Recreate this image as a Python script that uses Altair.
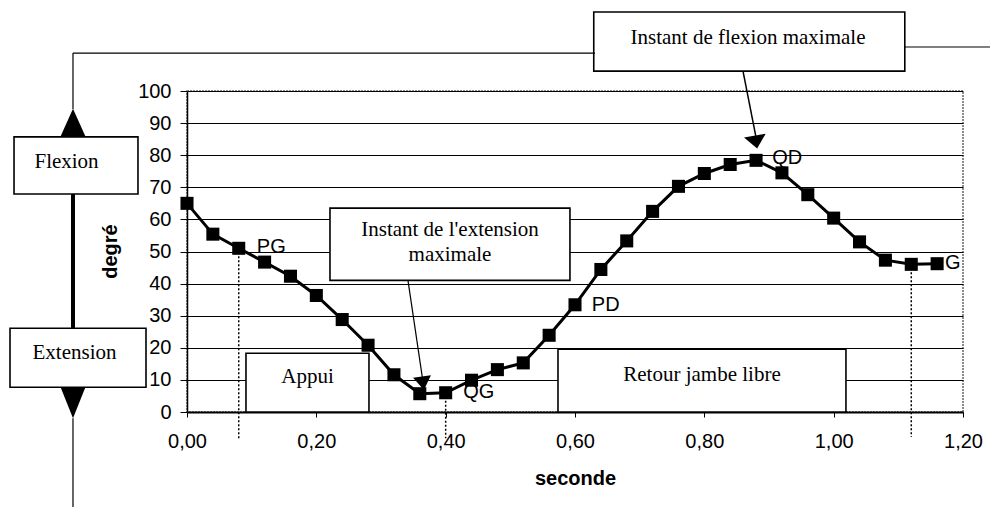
import altair as alt
import pandas as pd

# ---- data ----
seconds = [0.00, 0.04, 0.08, 0.12, 0.16, 0.20, 0.24, 0.28, 0.32, 0.36,
           0.40, 0.44, 0.48, 0.52, 0.56, 0.60, 0.64, 0.68, 0.72, 0.76,
           0.80, 0.84, 0.88, 0.92, 0.96, 1.00, 1.04, 1.08, 1.12, 1.16]
degres = [65.0, 55.4, 51.0, 46.7, 42.3, 36.3, 28.8, 20.8, 11.6, 5.7,
          6.0, 9.9, 13.2, 15.3, 23.9, 33.4, 44.4, 53.3, 62.5, 70.3,
          74.3, 77.1, 78.4, 74.5, 67.7, 60.4, 53.0, 47.3, 46.0, 46.2]

x_ticks = [0.0, 0.2, 0.4, 0.6, 0.8, 1.0, 1.2]
y_ticks = [0, 10, 20, 30, 40, 50, 60, 70, 80, 90, 100]

point_labels = ["PG", "QG", "PD", "QD", "G"]
point_label_x = [0.108, 0.427, 0.626, 0.905, 1.172]
point_label_y = [51.4, 6.2, 33.3, 79.0, 46.3]

# dotted markers (time, top value)
mark_x = [0.08, 0.40, 1.12]
mark_top = [51.0, 6.0, 46.0]
mark_bottom = [-8.2, -8.2, -7.8]

# annotation boxes (data coordinates)
box_names = ["Flexion", "Extension", "FlexMax", "ExtMax", "Appui", "Retour"]
box_x1 = [-0.2675, -0.2737, 0.629, 0.2211, 0.0912, 0.5737]
box_x2 = [-0.0758, -0.0634, 1.110, 0.5922, 0.2814, 1.0190]
box_y1 = [85.7, 26.1, 124.6, 63.5, 18.3, 19.55]
box_y2 = [67.9, 7.7, 106.2, 41.0, 0.0, 0.0]

box_texts = ["Flexion", "Extension", "Instant de flexion maximale",
             "Instant de l'extension", "maximale", "Appui", "Retour jambe libre"]
box_text_x = [-0.1863, -0.174, 0.8675, 0.4067, 0.4067, 0.1863, 0.7964]
box_text_y = [77.9, 18.3, 116.5, 56.6, 48.9, 10.8, 11.4]

# connector segments (x, y, x2, y2, width)
seg_x = [-0.1763, -0.1763, -0.1763, 1.110, -0.1763, 0.8598, 0.3417]
seg_y = [67.9, 94.4, 111.8, 113.7, -1.96, 106.2, 41.0]
seg_x2 = [-0.1763, -0.1763, 0.631, 1.2417, -0.1763, 0.8795, 0.3645]
seg_y2 = [26.1, 111.8, 111.8, 113.7, -29.7, 86.0, 10.0]
seg_w = [4.0, 1.2, 1.2, 1.2, 1.2, 1.5, 1.2]

# arrowheads
head_x = [-0.1763, -0.1763, 0.8799, 0.3649]
head_y = [90.1, 2.87, 84.1, 8.95]
head_path = ["M-0.9,1L0,-1L0.9,1Z", "M-0.8,-1L0,1L0.8,-1Z",
             "M-1,-0.6L0,0.6L1,-0.6Z", "M-1,-0.75L0,0.75L1,-0.75Z"]
head_angle = [0, 0, 350, 352]
head_size = [784, 961, 484, 324]

# ---- tables ----
df = pd.DataFrame({"x": seconds, "y": degres})
lab = pd.DataFrame({"x": point_label_x, "y": point_label_y, "t": point_labels})
dots = pd.DataFrame({"x": mark_x, "y": mark_top, "y2": mark_bottom})
boxes = pd.DataFrame({"n": box_names, "x": box_x1, "x2": box_x2, "y": box_y1, "y2": box_y2})
btxt = pd.DataFrame({"t": box_texts, "x": box_text_x, "y": box_text_y})
segs = pd.DataFrame({"x": seg_x, "y": seg_y, "x2": seg_x2, "y2": seg_y2, "w": seg_w})
heads = pd.DataFrame({"x": head_x, "y": head_y, "p": head_path, "a": head_angle, "s": head_size})

xs = alt.Scale(domain=[0, 1.2], nice=False, zero=False)
ys = alt.Scale(domain=[0, 100], nice=False, zero=False)

xaxis = alt.Axis(values=x_ticks, grid=False, labelFlush=False,
                 labelExpr="replace(format(datum.value, '.2f'), '.', ',')",
                 domainColor="black", domainWidth=2, tickColor="black",
                 tickSize=5, labelFont="Liberation Sans", labelFontSize=20,
                 labelColor="black", labelPadding=14,
                 titleFont="Liberation Sans", titleFontSize=20,
                 titleFontWeight="bold", titleColor="black",
                 titleX=388, titleY=66, titleBaseline="middle", titleAlign="center")
yaxis = alt.Axis(values=y_ticks, grid=True, gridColor="black", gridWidth=1.2,
                 labelFlush=False,
                 domainColor="black", domainWidth=1.5, tickColor="black",
                 tickSize=7, labelFont="Liberation Sans", labelFontSize=20,
                 labelColor="black", labelPadding=9,
                 titleFont="Liberation Sans", titleFontSize=20,
                 titleFontWeight="bold", titleColor="black", titleAngle=270,
                 titleX=-76.5, titleY=160, titleBaseline="middle", titleAlign="center")


def X(f="x"):
    return alt.X(f"{f}:Q", scale=xs, axis=xaxis, title="seconde")


def Y(f="y"):
    return alt.Y(f"{f}:Q", scale=ys, axis=yaxis, title="degré")


base_line = alt.Chart(df).mark_line(color="black", strokeWidth=3).encode(x=X(), y=Y())
pts = alt.Chart(df).mark_square(color="black", size=170, opacity=1).encode(x=X(), y=Y())

rects = alt.Chart(boxes).mark_rect(fill="white", stroke="black", strokeWidth=1.6).encode(
    x=X(), x2="x2:Q", y=Y(), y2="y2:Q")

seg_layer = alt.Chart(segs).mark_rule(color="black").encode(
    x=X(), x2="x2:Q", y=Y(), y2="y2:Q",
    strokeWidth=alt.StrokeWidth("w:Q", scale=None))

dotted = alt.Chart(dots).mark_rule(color="black", strokeDash=[2, 2], strokeWidth=1.5).encode(
    x=X(), y=Y(), y2="y2:Q")

head_layer = alt.Chart(heads).mark_point(filled=True, color="black", opacity=1).encode(
    x=X(), y=Y(),
    shape=alt.Shape("p:N", scale=None),
    angle=alt.Angle("a:Q", scale=None),
    size=alt.Size("s:Q", scale=None))

plabels = alt.Chart(lab).mark_text(align="left", baseline="middle",
                                   font="Liberation Sans", fontSize=20,
                                   color="black").encode(x=X(), y=Y(), text="t:N")

btext = alt.Chart(btxt).mark_text(align="center", baseline="middle",
                                  font="Liberation Serif", fontSize=21,
                                  color="black").encode(x=X(), y=Y(), text="t:N")

chart = alt.layer(rects, seg_layer, dotted, base_line, pts, head_layer,
                  plabels, btext).properties(
    width=776, height=321,
    autosize=alt.AutoSizeParams(type="none"),
    padding={"left": 179, "top": 83, "right": 27, "bottom": 95},
    background="white",
).configure_view(stroke="#666", strokeDash=[2, 1], strokeWidth=1.5)

chart.save("out.html", embed_options={"renderer": "svg", "actions": False})
